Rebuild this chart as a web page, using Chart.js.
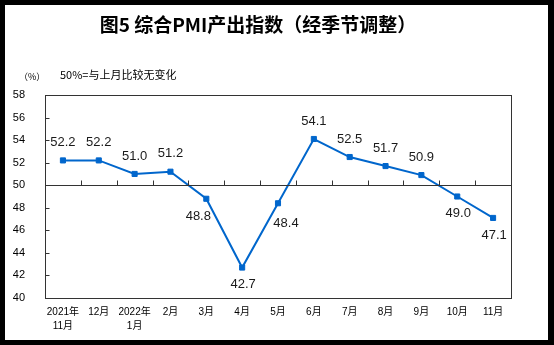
<!DOCTYPE html>
<html>
<head>
<meta charset="utf-8">
<script src="https://cdn.jsdelivr.net/npm/chart.js@4/dist/chart.umd.min.js"></script>
<style>
  html, body { margin: 0; padding: 0; background: #000; }
  canvas { display: block; }
</style>
</head>
<body>
<canvas id="pmi" width="554" height="345"></canvas>
<script>
// Month labels (two-line labels where the year changes)
const months = [
  ['2021年', '11月'], '12月', ['2022年', '1月'], '2月', '3月', '4月',
  '5月', '6月', '7月', '8月', '9月', '10月', '11月'
];
// Composite PMI output index, seasonally adjusted (%)
const outputIndex = [52.2, 52.2, 51.0, 51.2, 48.8, 42.7, 48.4, 54.1, 52.5, 51.7, 50.9, 49.0, 47.1];
const yTicks = [40, 42, 44, 46, 48, 50, 52, 54, 56, 58];
const titleText = '图5 综合PMI产出指数（经季节调整）';
const unitText = '（%）';
const noteText = '50%=与上月比较无变化';

const BLUE = '#0066CC';
const FRAME = '#333333';
const FONT = '"Liberation Sans", "Noto Sans CJK SC", sans-serif';

// where each value label sits relative to its point
const labelSide = ['up', 'up', 'up', 'up', 'downLeft', 'down', 'downRight', 'up', 'up', 'up', 'up', 'down', 'down'];

const decorations = {
  id: 'decorations',
  beforeDraw(chart) {
    const ctx = chart.ctx;
    ctx.save();
    ctx.fillStyle = '#000';
    ctx.fillRect(0, 0, chart.width, chart.height);
    ctx.fillStyle = '#fff';
    ctx.fillRect(5, 5, 543, 335);

    // title and notes
    ctx.fillStyle = '#000';
    ctx.textAlign = 'center';
    ctx.textBaseline = 'middle';
    ctx.font = 'bold 19px "Noto Sans CJK SC", sans-serif';
    ctx.fillText(titleText, 258, 25);
    ctx.textAlign = 'left';
    ctx.font = '9px "Noto Sans CJK SC", sans-serif';
    ctx.fillText(unitText, 19, 77);
    ctx.font = '11px "Noto Sans CJK SC", sans-serif';
    ctx.fillText(noteText, 60, 75);
    ctx.restore();
  },
  afterDatasetsDraw(chart) {
    const ctx = chart.ctx;
    const area = chart.chartArea;
    const x = chart.scales.x;
    const y = chart.scales.y;
    ctx.save();

    // plot frame
    ctx.strokeStyle = FRAME;
    ctx.lineWidth = 1;
    const l = Math.round(area.left) + 0.5, r = Math.round(area.right) + 0.5;
    const t = Math.round(area.top) + 0.5, b = Math.round(area.bottom) + 0.5;
    ctx.strokeRect(l, t, r - l, b - t);

    // inward tick marks on the value axis
    ctx.beginPath();
    yTicks.forEach(v => {
      const py = Math.round(y.getPixelForValue(v)) + 0.5;
      ctx.moveTo(l, py);
      ctx.lineTo(l + 4, py);
    });
    ctx.stroke();

    // 50% reference line with category separators
    const py50 = Math.round(y.getPixelForValue(50)) + 0.5;
    ctx.beginPath();
    ctx.moveTo(l, py50);
    ctx.lineTo(r, py50);
    for (let i = 1; i < months.length; i++) {
      const px = Math.round((x.getPixelForValue(i - 1) + x.getPixelForValue(i)) / 2) + 0.5;
      ctx.moveTo(px, py50);
      ctx.lineTo(px, py50 - 5);
    }
    ctx.stroke();
    ctx.restore();
  },
  afterDraw(chart) {
    // value labels
    const ctx = chart.ctx;
    const pts = chart.getDatasetMeta(0).data;
    ctx.save();
    ctx.fillStyle = '#1a1a1a';
    ctx.font = '13px ' + FONT;
    ctx.textAlign = 'center';
    ctx.textBaseline = 'middle';
    pts.forEach((p, i) => {
      let dx = 0, dy = -18;
      if (labelSide[i] === 'down') { dx = 1; dy = 17; }
      if (labelSide[i] === 'downLeft') { dx = -8; dy = 18; }
      if (labelSide[i] === 'downRight') { dx = 8; dy = 20; }
      ctx.fillText(outputIndex[i].toFixed(1), p.x + dx, p.y + dy);
    });
    ctx.restore();
  }
};

new Chart(document.getElementById('pmi'), {
  type: 'line',
  data: {
    labels: months,
    datasets: [{
      data: outputIndex,
      borderColor: BLUE,
      backgroundColor: BLUE,
      borderWidth: 2,
      pointStyle: 'rect',
      pointRadius: 3.6,
      pointBorderWidth: 1,
      pointBackgroundColor: BLUE,
      pointBorderColor: BLUE,
      tension: 0,
      clip: false
    }]
  },
  options: {
    responsive: false,
    devicePixelRatio: 1,
    animation: false,
    layout: { padding: { top: 95, right: 43, bottom: 0, left: 0 } },
    plugins: {
      legend: { display: false },
      title: { display: false },
      tooltip: { enabled: false }
    },
    scales: {
      x: {
        type: 'category',
        offset: true,
        grid: { display: false, drawTicks: false, offset: true },
        border: { display: false },
        ticks: {
          autoSkip: false,
          maxRotation: 0,
          padding: 7,
          color: '#000',
          font: { family: FONT, size: 10, lineHeight: 1.4 }
        },
        afterFit(scale) { scale.height = 47; }
      },
      y: {
        min: 40,
        max: 58,
        grid: { display: false, drawTicks: false },
        border: { display: false },
        ticks: {
          stepSize: 2,
          padding: 20,
          color: '#000',
          font: { family: FONT, size: 11 }
        },
        afterBuildTicks(scale) { scale.ticks = yTicks.map(v => ({ value: v })); },
        afterFit(scale) { scale.width = 45; }
      }
    }
  },
  plugins: [decorations]
});
</script>
</body>
</html>
